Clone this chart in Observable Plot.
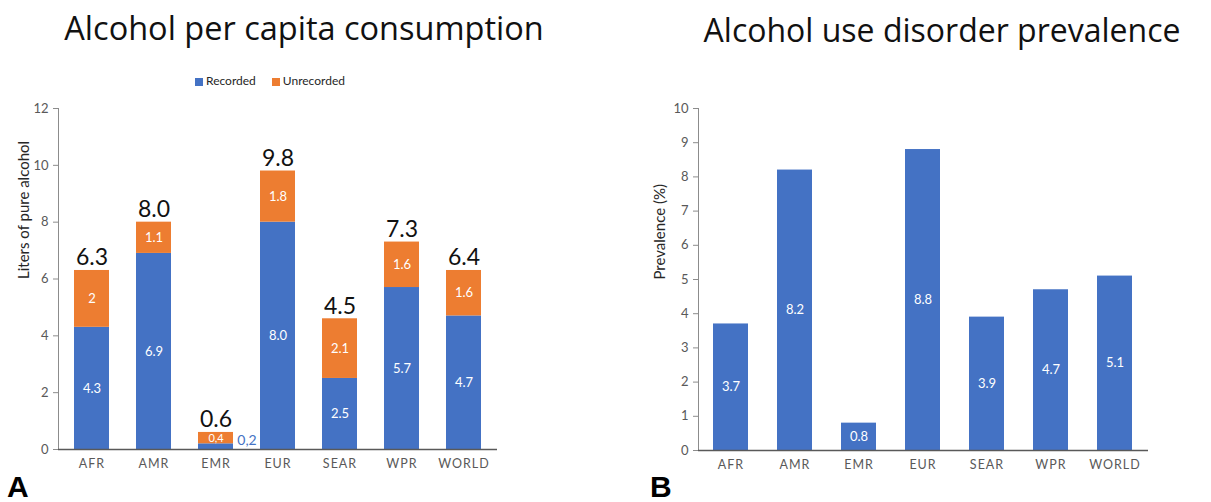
<!DOCTYPE html>
<html>
<head>
<meta charset="utf-8">
<script src="https://cdn.jsdelivr.net/npm/d3@7"></script>
<script src="https://cdn.jsdelivr.net/npm/@observablehq/plot@0.6"></script>
<style>
  html, body { margin: 0; padding: 0; background: #fff; }
  #root { position: relative; width: 1211px; height: 502px; overflow: hidden; font-family: Lato, "Open Sans", sans-serif; }
  .title { position: absolute; font-family: "Open Sans", sans-serif; font-size: 32.5px; line-height: 40px; color: #111; white-space: nowrap; transform: translateX(-50%); }
  .panel { position: absolute; font-family: "Liberation Sans", Arial, sans-serif; font-weight: bold; font-size: 30px; line-height: 30px; color: #000; }
  .legend { position: absolute; font-size: 12px; color: #262626; display: flex; gap: 16px; align-items: center; white-space: nowrap; }
  .legend span.sw { display: inline-block; width: 8px; height: 8px; margin-right: 3px; vertical-align: middle; }
  .chart { position: absolute; top: 0; }
  .chart [aria-label="x-axis tick label"] text { letter-spacing: 1px; }
</style>
</head>
<body>
<div id="root">
  <div class="title" style="left:304px; top:8px;">Alcohol per capita consumption</div>
  <div class="title" style="left:942px; top:10px; font-size:32px;">Alcohol use disorder prevalence</div>
  <div class="legend" style="left:195px; top:73px;">
    <div><span class="sw" style="background:#4472C4"></span>Recorded</div>
    <div><span class="sw" style="background:#ED7D31"></span>Unrecorded</div>
  </div>
  <div id="chartA" class="chart" style="left:0px;"></div>
  <div id="chartB" class="chart" style="left:605px;"></div>
  <div class="panel" style="left:7px; top:472px;">A</div>
  <div class="panel" style="left:650px; top:472px;">B</div>
</div>
<script>
// ---- Data ----
const regions = ["AFR", "AMR", "EMR", "EUR", "SEAR", "WPR", "WORLD"];
const recorded = [4.3, 6.9, 0.2, 8.0, 2.5, 5.7, 4.7];
const unrecorded = [2.0, 1.1, 0.4, 1.8, 2.1, 1.6, 1.6];
const recordedLabels = ["4.3", "6.9", "", "8.0", "2.5", "5.7", "4.7"];
const unrecordedLabels = ["2", "1.1", "0,4", "1.8", "2.1", "1.6", "1.6"];
const totalLabels = ["6.3", "8.0", "0.6", "9.8", "4.5", "7.3", "6.4"];
const outsideLabelRegion = "EMR";
const outsideLabelText = "0,2";
const consumptionTicks = [0, 2, 4, 6, 8, 10, 12];

const prevalence = [3.7, 8.2, 0.8, 8.8, 3.9, 4.7, 5.1];
const prevalenceLabels = ["3.7", "8.2", "0.8", "8.8", "3.9", "4.7", "5.1"];
const prevalenceTicks = [0, 1, 2, 3, 4, 5, 6, 7, 8, 9, 10];

const types = ["Recorded", "Unrecorded"];
const colors = ["#4472C4", "#ED7D31"];

// ---- Panel A ----
const stacked = [];
regions.forEach((r, i) => {
  stacked.push({region: r, type: "Recorded", value: recorded[i], label: recordedLabels[i], size: 13});
  stacked.push({region: r, type: "Unrecorded", value: unrecorded[i], label: unrecordedLabels[i], size: unrecorded[i] < 0.5 ? 11 : 13});
});
const totals = regions.map((r, i) => ({region: r, total: recorded[i] + unrecorded[i], label: totalLabels[i]}));
const outside = [{region: outsideLabelRegion, value: recorded[regions.indexOf(outsideLabelRegion)], label: outsideLabelText}];

const axisTextColor = "#595959";
const axisLineColor = "#8c8c8c";

const chartA = Plot.plot({
  width: 600,
  height: 502,
  marginLeft: 58,
  marginRight: 103,
  marginTop: 108,
  marginBottom: 53,
  style: {fontFamily: "Lato, sans-serif", background: "transparent"},
  x: {domain: regions, paddingInner: 0.44, paddingOuter: 0.22},
  y: {domain: [0, 12]},
  color: {domain: types, range: colors},
  marks: [
    Plot.frame({anchor: "left", stroke: axisLineColor}),
    Plot.axisY({ticks: consumptionTicks, tickSize: 5, tickPadding: 5, fontSize: 13, label: null, stroke: axisLineColor, fill: axisTextColor}),
    Plot.axisX({tickSize: 0, tickPadding: 10, fontSize: 12.5, label: null, fill: axisTextColor}),
    Plot.barY(stacked, Plot.stackY({x: "region", y: "value", fill: "type"})),
    Plot.text(stacked, Plot.stackY({x: "region", y: "value", text: "label", fill: "white", fontSize: "size"})),
    Plot.text(totals, {x: "region", y: "total", text: "label", lineAnchor: "bottom", dy: -5, fontSize: 23, fill: "#111"}),
    Plot.text(outside, {x: "region", y: "value", text: "label", dx: 31, lineAnchor: "bottom", dy: 1, fontSize: 14, fill: "#4472C4"}),
    Plot.ruleY([0], {stroke: "#595959", strokeWidth: 1.5}),
    Plot.text(["Liters of pure alcohol"], {frameAnchor: "left", text: d => d, rotate: -90, dx: -34, fontSize: 15, fill: "#262626"})
  ]
});
document.getElementById("chartA").appendChild(chartA);

// ---- Panel B ----
const prev = regions.map((r, i) => ({region: r, value: prevalence[i], label: prevalenceLabels[i]}));
const chartB = Plot.plot({
  width: 606,
  height: 502,
  marginLeft: 93,
  marginRight: 63,
  marginTop: 108,
  marginBottom: 52,
  style: {fontFamily: "Lato, sans-serif", background: "transparent"},
  x: {domain: regions, paddingInner: 0.45, paddingOuter: 0.225},
  y: {domain: [0, 10]},
  marks: [
    Plot.frame({anchor: "left", stroke: axisLineColor}),
    Plot.axisY({ticks: prevalenceTicks, tickSize: 5, tickPadding: 5, fontSize: 13, label: null, stroke: axisLineColor, fill: axisTextColor}),
    Plot.axisX({tickSize: 0, tickPadding: 10, fontSize: 12.5, label: null, fill: axisTextColor}),
    Plot.barY(prev, {x: "region", y: "value", fill: colors[0]}),
    Plot.text(prev, {x: "region", y: d => d.value / 2, text: "label", fill: "white", fontSize: 13}),
    Plot.ruleY([0], {stroke: "#595959", strokeWidth: 1.5}),
    Plot.text(["Prevalence (%)"], {frameAnchor: "left", text: d => d, rotate: -90, dx: -38, fontSize: 15, fill: "#262626"})
  ]
});
document.getElementById("chartB").appendChild(chartB);
</script>
</body>
</html>
